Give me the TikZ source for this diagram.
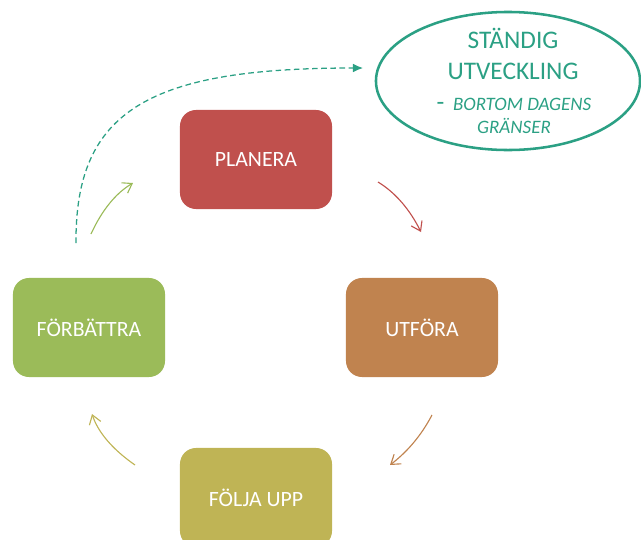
\documentclass[tikz,border=0pt]{standalone}
\usepackage{fontspec}
\setmainfont{Carlito}
\usepackage{xcolor}
\usepackage{tikz}
\usetikzlibrary{shapes.geometric}
\usetikzlibrary{arrows.meta}

\definecolor{planerafarg}{HTML}{C0504D}
\definecolor{utforafarg}{HTML}{C0834F}
\definecolor{foljafarg}{HTML}{BFB455}
\definecolor{forbattrafarg}{HTML}{9BBB59}
\definecolor{malfarg}{HTML}{2BA084}

\begin{document}
\begin{tikzpicture}[x=0.025cm, y=-0.025cm,
		steg/.style={rectangle, rounded corners=0.4cm, minimum width=3.8cm, minimum height=2.475cm, text=white, font=\fontsize{15.5}{18}\selectfont},
		pil/.style={-{Straight Barb[length=2.2mm, width=3mm]}, line width=0.8pt}]
		\useasboundingbox (0,0) rectangle (641,540);

		% the four steps
		\node at (256,159.5) (planera) [steg, fill=planerafarg] {PLANERA};
		\node at (422,327.5) (utfora) [steg, fill=utforafarg] {UTFÖRA};
		\node at (256,497.5) (folja) [steg, fill=foljafarg] {FÖLJA UPP};
		\node at (89,327.5) (forbattra) [steg, fill=forbattrafarg] {FÖRBÄTTRA};

		% the goal
		\node at (508,81) (mal) [ellipse, draw=malfarg, line width=1.8pt, minimum width=6.6cm, minimum height=3.45cm] {};
		\node at (513,54) (maltitel) [text=malfarg, align=center, font=\fontsize{18}{22}\selectfont] {STÄNDIG\\UTVECKLING};
		\node at (514,116) (malunder) [text=malfarg, align=center, font=\itshape\fontsize{13.5}{16.7}\selectfont] {{\upshape\fontsize{18}{18}\selectfont -}\ \ BORTOM DAGENS\\GRÄNSER};

		% arrows between the steps
		\coordinate (p1) at (378,182);
		\coordinate (p2) at (421,232);
		\draw [pil, planerafarg] (p1) .. controls (396,193) and (410,210) .. (p2);
		\coordinate (u1) at (432,415);
		\coordinate (u2) at (390,465);
		\draw [pil, utforafarg] (u1) .. controls (421,436) and (407,452) .. (u2);
		\coordinate (f1) at (135,465);
		\coordinate (f2) at (92,414);
		\draw [pil, foljafarg] (f1) .. controls (112,449) and (98,432) .. (f2);
		\coordinate (b1) at (91,234);
		\coordinate (b2) at (133,183);
		\draw [pil, forbattrafarg] (b1) .. controls (102,210) and (116,193) .. (b2);

		% dashed arrow to the goal
		\coordinate (s1) at (76,243);
		\coordinate (s2) at (363,68);
		\draw [malfarg, dash pattern=on 4pt off 2.5pt, line width=0.9pt, -{Latex[length=2.5mm, width=2.2mm]}] (s1) .. controls (75,110) and (150,68) .. (s2);

	\end{tikzpicture}
\end{document}
